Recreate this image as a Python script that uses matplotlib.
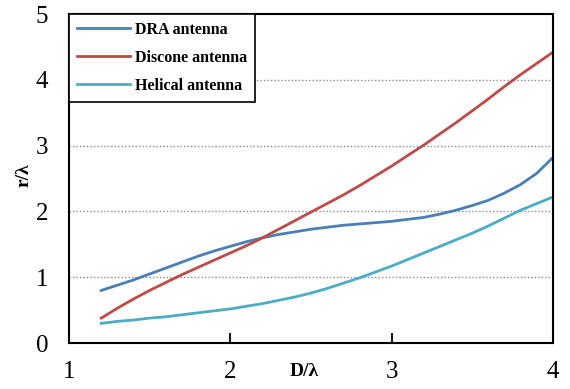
import matplotlib
matplotlib.use("Agg")
import matplotlib.pyplot as plt

# D/lambda values where the curves were read
d_lambda = [1.2, 1.3, 1.4, 1.5, 1.6, 1.7, 1.8, 1.9, 2.0, 2.1,
            2.2, 2.3, 2.4, 2.5, 2.6, 2.7, 2.8, 2.9, 3.0, 3.1,
            3.2, 3.3, 3.4, 3.5, 3.6, 3.7, 3.8, 3.9, 4.0]

dra = [0.80, 0.88, 0.96, 1.05, 1.14, 1.23, 1.32, 1.40, 1.47, 1.54,
       1.60, 1.65, 1.69, 1.73, 1.76, 1.79, 1.81, 1.83, 1.85, 1.88,
       1.91, 1.96, 2.02, 2.09, 2.17, 2.28, 2.41, 2.58, 2.82]
discone = [0.38, 0.53, 0.67, 0.80, 0.92, 1.04, 1.15, 1.26, 1.37, 1.48,
           1.60, 1.73, 1.86, 1.99, 2.12, 2.25, 2.39, 2.54, 2.69, 2.85,
           3.01, 3.18, 3.35, 3.53, 3.71, 3.90, 4.08, 4.25, 4.42]
helical = [0.30, 0.33, 0.35, 0.38, 0.40, 0.43, 0.46, 0.49, 0.52, 0.56,
           0.60, 0.65, 0.70, 0.76, 0.83, 0.91, 0.99, 1.08, 1.17, 1.27,
           1.37, 1.47, 1.57, 1.67, 1.78, 1.90, 2.02, 2.12, 2.22]

series_names = ['DRA antenna', 'Discone antenna', 'Helical antenna']
x_ticks = [1, 2, 3, 4]
y_ticks = [0, 1, 2, 3, 4, 5]

plt.rcParams['font.family'] = ['Liberation Serif', 'DejaVu Serif']

fig = plt.figure(figsize=(5.7, 3.89), dpi=100)
ax = fig.add_axes([0.121, 0.118, 0.849, 0.846])

ax.plot(d_lambda, dra, color='#4a7ebb', lw=2.0, label=series_names[0])
ax.plot(d_lambda, discone, color='#be4b48', lw=2.0, label=series_names[1])
ax.plot(d_lambda, helical, color='#4bacc6', lw=2.0, label=series_names[2])

ax.set_xlim(1, 4)
ax.set_ylim(0, 5)
ax.set_xticks(x_ticks)
ax.set_yticks(y_ticks)

# dotted gridlines only at 1..4
for y in y_ticks[1:-1]:
    ax.axhline(y, color='#8c8c8c', lw=1.0, ls=(0, (1, 1.5)), zorder=0)

for s in ax.spines.values():
    s.set_linewidth(1.5)
    s.set_color('black')

ax.tick_params(axis='x', direction='in', length=7, width=1.3, pad=13, labelsize=18)
ax.tick_params(axis='y', length=0, pad=15, labelsize=18)

# axis titles sit between the tick labels like in the original
fig.text(0.533, 0.033, 'D/\u03bb', fontweight='bold', fontsize=14,
         ha='center', va='baseline')
ax.set_ylabel('r/\u03bb', fontweight='bold', fontsize=14, va='center')
ax.yaxis.set_label_coords(-0.093, 0.51)

leg = ax.legend(loc='upper left', borderaxespad=0, fancybox=False, framealpha=1,
                edgecolor='black', prop={'weight': 'bold', 'size': 11.5},
                handlelength=3.3, handletextpad=0.35, labelspacing=0.75,
                borderpad=0.5)
leg.get_frame().set_linewidth(1.2)

fig.savefig('out.png', dpi=100)
